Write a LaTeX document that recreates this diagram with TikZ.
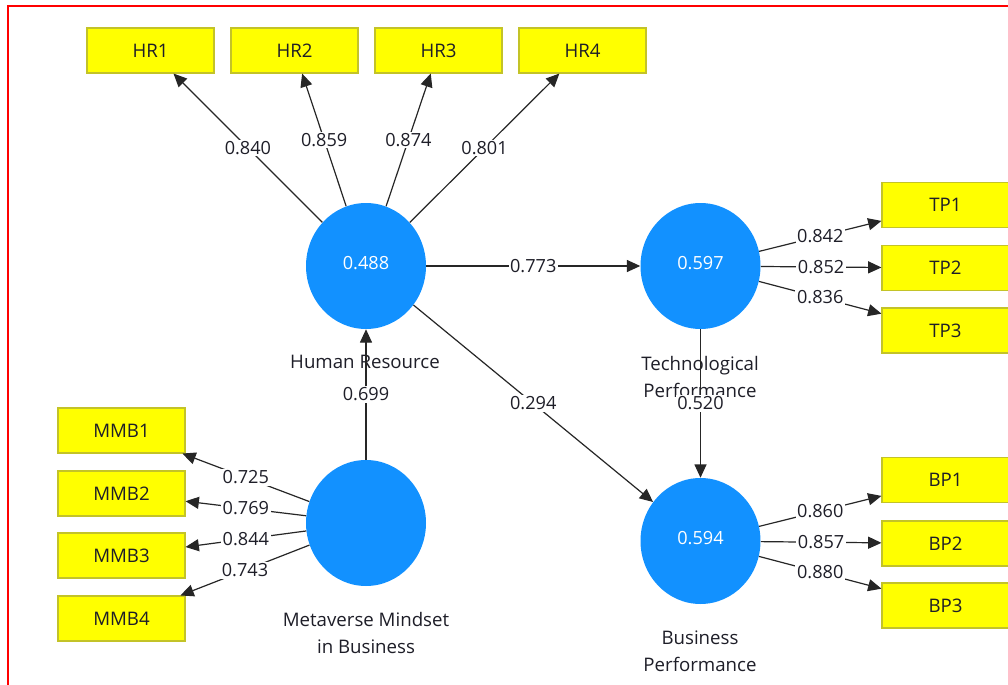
\documentclass[tikz,border=0pt]{standalone}
\usepackage{fontspec}
\setmainfont{Open Sans}
\usetikzlibrary{arrows.meta,shapes.geometric}
\definecolor{lvblue}{RGB}{18,145,255}
\definecolor{mvyellow}{RGB}{255,255,0}
\definecolor{mvborder}{RGB}{195,195,40}
\definecolor{inktext}{RGB}{30,30,40}
\begin{document}
\begin{tikzpicture}[x=0.75pt,y=-0.75pt,
  latent/.style={ellipse, fill=lvblue, draw=none, minimum width=90pt, minimum height=94.5pt, inner sep=0pt, text=white, font=\fontsize{13.6}{15}\selectfont},
  manifest/.style={rectangle, fill=mvyellow, draw=mvborder, line width=0.8pt, minimum width=95.25pt, minimum height=33.75pt, inner sep=0pt, text=inktext, font=\fontsize{14}{16}\selectfont},
  link/.style={draw=black!85, line width=0.9pt, -{Triangle[length=10pt,width=9pt]}},
  coef/.style={fill=white, inner sep=1.2pt, text=inktext, font=\fontsize{13.6}{15}\selectfont},
  caption/.style={align=center, text=inktext, font=\fontsize{14}{20.25}\selectfont},
]
\useasboundingbox (0,0) rectangle (1008,685);
\clip (0,0) rectangle (1008,685);
\fill[white] (0,0) rectangle (1008,685);
\draw[red, line width=1.3pt] (8,700) -- (8,6) -- (1020,6);

% latent variables
\node[latent] (hr)  at (366,266)   {\raisebox{4.5pt}{0.488}};
\node[latent] (tp)  at (700.5,266) {\raisebox{4.5pt}{0.597}};
\node[latent] (bp)  at (700.5,541) {\raisebox{4.5pt}{0.594}};
\node[latent] (mmb) at (366,523)   {};

% captions
\node[caption] (hrcap)  at (365,362)   {Human Resource};
\node[caption] (tpcap)  at (700,376.5) {Technological\\Performance};
\node[caption] (bpcap)  at (700,651)   {Business\\Performance};
\node[caption] (mmbcap) at (366,633)   {Metaverse Mindset\\in Business};

% indicators
\node[manifest] (hr1) at (150.5,50.5) {HR1};
\node[manifest] (hr2) at (294.5,50.5) {HR2};
\node[manifest] (hr3) at (438.5,50.5) {HR3};
\node[manifest] (hr4) at (582.5,50.5) {HR4};

\node[manifest] (tp1) at (945.5,205)   {TP1};
\node[manifest] (tp2) at (945.5,268)   {TP2};
\node[manifest] (tp3) at (945.5,330.5) {TP3};

\node[manifest] (bp1) at (945.5,480)   {BP1};
\node[manifest] (bp2) at (945.5,543.5) {BP2};
\node[manifest] (bp3) at (945.5,605.5) {BP3};

\node[manifest] (mmb1) at (121.5,430.5) {MMB1};
\node[manifest] (mmb2) at (121.5,493.5) {MMB2};
\node[manifest] (mmb3) at (121.5,555.5) {MMB3};
\node[manifest] (mmb4) at (121.5,618.5) {MMB4};

% outer loadings
\draw[link] (hr) -- node[coef] {0.840} (hr1);
\draw[link] (hr) -- node[coef] {0.859} (hr2);
\draw[link] (hr) -- node[coef] {0.874} (hr3);
\draw[link] (hr) -- node[coef] {0.801} (hr4);

\draw[link] (tp) -- node[coef] {0.842} (tp1);
\draw[link] (tp) -- node[coef] {0.852} (tp2);
\draw[link] (tp) -- node[coef] {0.836} (tp3);

\draw[link] (bp) -- node[coef] {0.860} (bp1);
\draw[link] (bp) -- node[coef] {0.857} (bp2);
\draw[link] (bp) -- node[coef] {0.880} (bp3);

\draw[link] (mmb) -- node[coef] {0.725} (mmb1);
\draw[link] (mmb) -- node[coef] {0.769} (mmb2);
\draw[link] (mmb) -- node[coef] {0.844} (mmb3);
\draw[link] (mmb) -- node[coef] {0.743} (mmb4);

% path coefficients
\draw[link] (hr)  -- node[coef] {0.773} (tp);
\draw[link] (hr)  -- node[coef] {0.294} (bp);
\draw[link] (tp)  -- node[coef] {0.520} (bp);
\draw[link] (mmb) -- node[coef] {0.699} (hr);
\end{tikzpicture}
\end{document}
